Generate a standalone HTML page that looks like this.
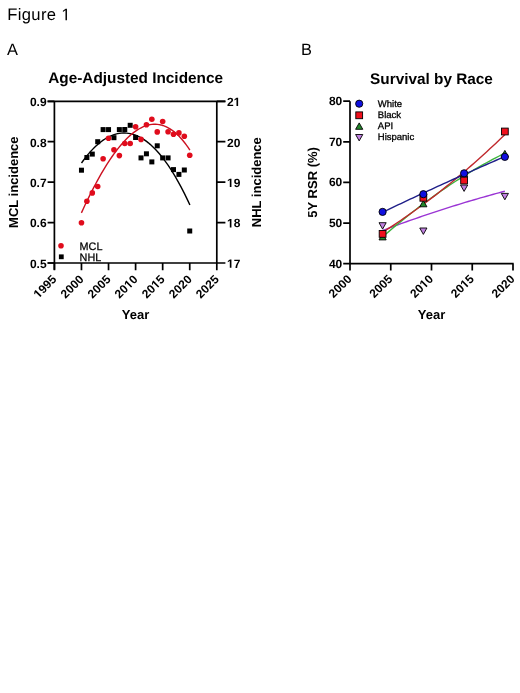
<!DOCTYPE html><html><head><meta charset="utf-8"><style>html,body{margin:0;padding:0;background:#fff;}svg{display:block;will-change:transform;}text{font-family:"Liberation Sans",sans-serif;text-rendering:geometricPrecision;}</style></head><body>
<svg width="520" height="693" viewBox="0 0 520 693">
<rect width="520" height="693" fill="#fff"/>
<g transform="translate(7.20 20.20)" fill="#000"><text font-size="16.6" style="font-kerning:none;letter-spacing:0.35px">Figure  </text><path transform="matrix(0.008105 0 0 -0.008105 54.114 0)" d="M515 0V1237L197 1010V1180L530 1409H696V0Z"/></g>
<text x="7.0" y="54.6" font-size="16.4" fill="#000">A</text>
<text x="301.0" y="54.6" font-size="16.4" fill="#000">B</text>
<text x="135.6" y="83.3" font-size="15.35" font-weight="bold" text-anchor="middle" fill="#000">Age-Adjusted Incidence</text>
<text x="431.5" y="84" font-size="15.35" font-weight="bold" text-anchor="middle" fill="#000">Survival by Race</text>
<g stroke="#000" stroke-width="1.7" fill="none" stroke-linecap="butt"><path d="M47.60 101.3 H225.40 M54.4 101.3 V269.8 M216.8 101.3 V263.0 M47.60 263.0 H216.8" /><path d="M47.60 101.30 H54.4 M216.8 101.30 H225.40 M47.60 141.72 H54.4 M216.8 141.72 H225.40 M47.60 182.15 H54.4 M216.8 182.15 H225.40 M47.60 222.57 H54.4 M216.8 222.57 H225.40 M47.60 263.00 H54.4 M216.8 263.00 H225.40 M54.40 263.0 V270.20 M81.47 263.0 V270.20 M108.53 263.0 V270.20 M135.60 263.0 V270.20 M162.67 263.0 V270.20 M189.73 263.0 V270.20 M216.80 263.0 V270.20"/></g>
<g font-size="12" font-weight="bold" fill="#000"><text x="46.6" y="106.1" text-anchor="end">0.9</text><text x="46.6" y="146.5" text-anchor="end">0.8</text><text x="46.6" y="186.9" text-anchor="end">0.7</text><text x="46.6" y="227.4" text-anchor="end">0.6</text><text x="46.6" y="267.8" text-anchor="end">0.5</text><g transform="translate(227.00 106.10)" fill="#000"><text font-size="12" font-weight="bold" style="font-kerning:none;letter-spacing:0px">2 </text><path transform="matrix(0.005859 0 0 -0.005859 6.674 0)" d="M478 0V1170L140 959V1180L493 1409H759V0Z"/></g><text transform="translate(227.00 146.53)" font-size="12" font-weight="bold" fill="#000">20</text><g transform="translate(227.00 186.95)" fill="#000"><text font-size="12" font-weight="bold" style="font-kerning:none;letter-spacing:0px"> 9</text><path transform="matrix(0.005859 0 0 -0.005859 0.000 0)" d="M478 0V1170L140 959V1180L493 1409H759V0Z"/></g><g transform="translate(227.00 227.38)" fill="#000"><text font-size="12" font-weight="bold" style="font-kerning:none;letter-spacing:0px"> 8</text><path transform="matrix(0.005859 0 0 -0.005859 0.000 0)" d="M478 0V1170L140 959V1180L493 1409H759V0Z"/></g><g transform="translate(227.00 267.80)" fill="#000"><text font-size="12" font-weight="bold" style="font-kerning:none;letter-spacing:0px"> 7</text><path transform="matrix(0.005859 0 0 -0.005859 0.000 0)" d="M478 0V1170L140 959V1180L493 1409H759V0Z"/></g><g transform="translate(57.30 280.10) rotate(-45)" fill="#000"><text font-size="12" font-weight="bold" text-anchor="end" style="font-kerning:none;letter-spacing:0px"> 995</text><path transform="matrix(0.005859 0 0 -0.005859 -26.695 0)" d="M478 0V1170L140 959V1180L493 1409H759V0Z"/></g><text transform="translate(84.37 280.10) rotate(-45)" font-size="12" font-weight="bold" text-anchor="end" fill="#000">2000</text><text transform="translate(111.43 280.10) rotate(-45)" font-size="12" font-weight="bold" text-anchor="end" fill="#000">2005</text><g transform="translate(138.50 280.10) rotate(-45)" fill="#000"><text font-size="12" font-weight="bold" text-anchor="end" style="font-kerning:none;letter-spacing:0px">20 0</text><path transform="matrix(0.005859 0 0 -0.005859 -13.348 0)" d="M478 0V1170L140 959V1180L493 1409H759V0Z"/></g><g transform="translate(165.57 280.10) rotate(-45)" fill="#000"><text font-size="12" font-weight="bold" text-anchor="end" style="font-kerning:none;letter-spacing:0px">20 5</text><path transform="matrix(0.005859 0 0 -0.005859 -13.348 0)" d="M478 0V1170L140 959V1180L493 1409H759V0Z"/></g><text transform="translate(192.63 280.10) rotate(-45)" font-size="12" font-weight="bold" text-anchor="end" fill="#000">2020</text><text transform="translate(219.70 280.10) rotate(-45)" font-size="12" font-weight="bold" text-anchor="end" fill="#000">2025</text></g>
<text transform="translate(17.9 182.2) rotate(-90)" text-anchor="middle" font-size="13" font-weight="bold" fill="#000">MCL incidence</text>
<text transform="translate(260.8 182.2) rotate(-90)" text-anchor="middle" font-size="13" font-weight="bold" fill="#000">NHL incidence</text>
<text x="135.6" y="318.6" text-anchor="middle" font-size="13" font-weight="bold" fill="#000">Year</text>
<path d="M81.50,162.97 L83.31,160.47 L85.11,158.09 L86.92,155.81 L88.73,153.64 L90.53,151.58 L92.34,149.63 L94.15,147.79 L95.95,146.05 L97.76,144.42 L99.57,142.90 L101.37,141.49 L103.18,140.19 L104.99,139.00 L106.79,137.91 L108.60,136.93 L110.41,136.07 L112.21,135.30 L114.02,134.65 L115.83,134.11 L117.63,133.67 L119.44,133.34 L121.25,133.13 L123.05,133.01 L124.86,133.01 L126.67,133.12 L128.47,133.33 L130.28,133.65 L132.09,134.08 L133.89,134.62 L135.70,135.27 L137.51,136.03 L139.31,136.89 L141.12,137.86 L142.93,138.94 L144.73,140.13 L146.54,141.43 L148.35,142.83 L150.15,144.35 L151.96,145.97 L153.77,147.70 L155.57,149.54 L157.38,151.48 L159.19,153.54 L160.99,155.70 L162.80,157.98 L164.61,160.36 L166.41,162.84 L168.22,165.44 L170.03,168.15 L171.83,170.96 L173.64,173.88 L175.45,176.91 L177.25,180.05 L179.06,183.29 L180.87,186.65 L182.67,190.11 L184.48,193.68 L186.29,197.36 L188.09,201.15 L189.90,205.05" stroke="#000" stroke-width="1.4" fill="none"/>
<path d="M81.40,212.85 L83.21,208.93 L85.02,205.07 L86.83,201.28 L88.63,197.57 L90.44,193.93 L92.25,190.36 L94.06,186.87 L95.87,183.46 L97.68,180.13 L99.48,176.87 L101.29,173.70 L103.10,170.62 L104.91,167.62 L106.72,164.70 L108.53,161.87 L110.33,159.14 L112.14,156.49 L113.95,153.94 L115.76,151.48 L117.57,149.12 L119.38,146.85 L121.18,144.68 L122.99,142.61 L124.80,140.65 L126.61,138.79 L128.42,137.03 L130.23,135.37 L132.03,133.83 L133.84,132.39 L135.65,131.07 L137.46,129.86 L139.27,128.76 L141.07,127.77 L142.88,126.90 L144.69,126.15 L146.50,125.52 L148.31,125.01 L150.12,124.62 L151.93,124.36 L153.73,124.22 L155.54,124.21 L157.35,124.33 L159.16,124.57 L160.97,124.95 L162.78,125.46 L164.58,126.11 L166.39,126.89 L168.20,127.81 L170.01,128.86 L171.82,130.06 L173.62,131.40 L175.43,132.88 L177.24,134.51 L179.05,136.28 L180.86,138.21 L182.67,140.28 L184.48,142.50 L186.28,144.87 L188.09,147.40 L189.90,150.08" stroke="#cc1020" stroke-width="1.4" fill="none"/>
<g fill="#000"><rect x="78.97" y="167.70" width="5" height="5"/><rect x="84.38" y="155.00" width="5" height="5"/><rect x="89.79" y="151.60" width="5" height="5"/><rect x="95.21" y="139.20" width="5" height="5"/><rect x="100.62" y="127.10" width="5" height="5"/><rect x="106.03" y="127.10" width="5" height="5"/><rect x="111.45" y="135.20" width="5" height="5"/><rect x="116.86" y="127.10" width="5" height="5"/><rect x="122.27" y="127.00" width="5" height="5"/><rect x="127.69" y="122.80" width="5" height="5"/><rect x="133.10" y="135.00" width="5" height="5"/><rect x="138.51" y="155.40" width="5" height="5"/><rect x="143.93" y="151.30" width="5" height="5"/><rect x="149.34" y="159.40" width="5" height="5"/><rect x="154.75" y="143.30" width="5" height="5"/><rect x="160.17" y="155.40" width="5" height="5"/><rect x="165.58" y="155.40" width="5" height="5"/><rect x="170.99" y="167.10" width="5" height="5"/><rect x="176.41" y="171.90" width="5" height="5"/><rect x="181.82" y="167.50" width="5" height="5"/><rect x="187.23" y="228.50" width="5" height="5"/></g>
<g fill="#e00c1c"><circle cx="81.47" cy="222.70" r="2.8"/><circle cx="86.88" cy="201.30" r="2.8"/><circle cx="92.29" cy="192.90" r="2.8"/><circle cx="97.71" cy="186.50" r="2.8"/><circle cx="103.12" cy="158.70" r="2.8"/><circle cx="108.53" cy="138.30" r="2.8"/><circle cx="113.95" cy="149.80" r="2.8"/><circle cx="119.36" cy="155.60" r="2.8"/><circle cx="124.77" cy="143.50" r="2.8"/><circle cx="130.19" cy="143.50" r="2.8"/><circle cx="135.60" cy="126.70" r="2.8"/><circle cx="141.01" cy="139.40" r="2.8"/><circle cx="146.43" cy="124.80" r="2.8"/><circle cx="151.84" cy="119.20" r="2.8"/><circle cx="157.25" cy="131.90" r="2.8"/><circle cx="162.67" cy="121.50" r="2.8"/><circle cx="168.08" cy="131.70" r="2.8"/><circle cx="173.49" cy="134.20" r="2.8"/><circle cx="178.91" cy="132.90" r="2.8"/><circle cx="184.32" cy="136.30" r="2.8"/><circle cx="189.73" cy="155.20" r="2.8"/></g>
<circle cx="61" cy="245.8" r="2.8" fill="#e00c1c"/>
<rect x="58.9" y="254.4" width="4.8" height="4.8" fill="#000"/>
<text x="79.6" y="249.8" font-size="10.8" fill="#000" stroke="#000" stroke-width="0.25">MCL</text>
<text x="79.6" y="260.8" font-size="10.8" fill="#000" stroke="#000" stroke-width="0.25">NHL</text>
<path d="M350.0 101.2 V270.50 M343.20 263.7 H513.70 M343.20 101.20 H350.0 M343.20 141.82 H350.0 M343.20 182.45 H350.0 M343.20 223.07 H350.0 M343.20 263.70 H350.0 M390.75 263.7 V270.50 M431.50 263.7 V270.50 M472.25 263.7 V270.50 M513.00 263.7 V270.50" stroke="#000" stroke-width="1.7" fill="none"/>
<g font-size="12" font-weight="bold" fill="#000"><text x="342.3" y="105.2" text-anchor="end">80</text><text x="342.3" y="145.8" text-anchor="end">70</text><text x="342.3" y="186.4" text-anchor="end">60</text><text x="342.3" y="227.1" text-anchor="end">50</text><text x="342.3" y="267.7" text-anchor="end">40</text><text transform="translate(352.40 279.70) rotate(-45)" font-size="12" font-weight="bold" text-anchor="end" fill="#000">2000</text><text transform="translate(393.15 279.70) rotate(-45)" font-size="12" font-weight="bold" text-anchor="end" fill="#000">2005</text><g transform="translate(433.90 279.70) rotate(-45)" fill="#000"><text font-size="12" font-weight="bold" text-anchor="end" style="font-kerning:none;letter-spacing:0px">20 0</text><path transform="matrix(0.005859 0 0 -0.005859 -13.348 0)" d="M478 0V1170L140 959V1180L493 1409H759V0Z"/></g><g transform="translate(474.65 279.70) rotate(-45)" fill="#000"><text font-size="12" font-weight="bold" text-anchor="end" style="font-kerning:none;letter-spacing:0px">20 5</text><path transform="matrix(0.005859 0 0 -0.005859 -13.348 0)" d="M478 0V1170L140 959V1180L493 1409H759V0Z"/></g><text transform="translate(515.40 279.70) rotate(-45)" font-size="12" font-weight="bold" text-anchor="end" fill="#000">2020</text></g>
<text transform="translate(316.9 182.4) rotate(-90)" text-anchor="middle" font-size="13" font-weight="bold" fill="#000">5Y RSR (%)</text>
<text x="431.5" y="319" text-anchor="middle" font-size="13" font-weight="bold" fill="#000">Year</text>
<path d="M382.60,230.49 L385.66,229.33 L388.71,228.19 L391.77,227.06 L394.83,225.93 L397.88,224.81 L400.94,223.71 L403.99,222.61 L407.05,221.52 L410.11,220.43 L413.16,219.36 L416.22,218.30 L419.28,217.24 L422.33,216.19 L425.39,215.15 L428.44,214.12 L431.50,213.10 L434.56,212.09 L437.61,211.09 L440.67,210.09 L443.73,209.11 L446.78,208.13 L449.84,207.16 L452.89,206.20 L455.95,205.25 L459.01,204.31 L462.06,203.37 L465.12,202.45 L468.18,201.53 L471.23,200.62 L474.29,199.72 L477.34,198.83 L480.40,197.95 L483.46,197.08 L486.51,196.22 L489.57,195.36 L492.62,194.51 L495.68,193.68 L498.74,192.85 L501.79,192.03 L504.85,191.22" stroke="#9a34d4" stroke-width="1.4" fill="none"/>
<path d="M382.60,236.91 L385.66,234.24 L388.71,231.60 L391.77,228.99 L394.83,226.41 L397.88,223.86 L400.94,221.34 L403.99,218.85 L407.05,216.39 L410.11,213.96 L413.16,211.56 L416.22,209.18 L419.28,206.84 L422.33,204.53 L425.39,202.24 L428.44,199.99 L431.50,197.76 L434.56,195.56 L437.61,193.40 L440.67,191.26 L443.73,189.15 L446.78,187.07 L449.84,185.03 L452.89,183.01 L455.95,181.02 L459.01,179.06 L462.06,177.13 L465.12,175.22 L468.18,173.35 L471.23,171.51 L474.29,169.70 L477.34,167.91 L480.40,166.16 L483.46,164.43 L486.51,162.74 L489.57,161.07 L492.62,159.44 L495.68,157.83 L498.74,156.25 L501.79,154.70 L504.85,153.18" stroke="#3cb43c" stroke-width="1.4" fill="none"/>
<path d="M382.60,232.19 L385.66,230.26 L388.71,228.30 L391.77,226.32 L394.83,224.31 L397.88,222.27 L400.94,220.21 L403.99,218.12 L407.05,216.01 L410.11,213.87 L413.16,211.70 L416.22,209.51 L419.28,207.29 L422.33,205.05 L425.39,202.78 L428.44,200.49 L431.50,198.16 L434.56,195.82 L437.61,193.44 L440.67,191.04 L443.73,188.62 L446.78,186.17 L449.84,183.69 L452.89,181.18 L455.95,178.65 L459.01,176.10 L462.06,173.52 L465.12,170.91 L468.18,168.28 L471.23,165.62 L474.29,162.93 L477.34,160.22 L480.40,157.48 L483.46,154.72 L486.51,151.93 L489.57,149.11 L492.62,146.27 L495.68,143.41 L498.74,140.51 L501.79,137.59 L504.85,134.65" stroke="#c0282c" stroke-width="1.4" fill="none"/>
<path d="M382.60,212.29 L385.66,210.82 L388.71,209.36 L391.77,207.90 L394.83,206.44 L397.88,204.99 L400.94,203.55 L403.99,202.10 L407.05,200.66 L410.11,199.23 L413.16,197.79 L416.22,196.37 L419.28,194.94 L422.33,193.52 L425.39,192.10 L428.44,190.69 L431.50,189.28 L434.56,187.87 L437.61,186.46 L440.67,185.06 L443.73,183.67 L446.78,182.28 L449.84,180.89 L452.89,179.50 L455.95,178.12 L459.01,176.74 L462.06,175.37 L465.12,174.00 L468.18,172.63 L471.23,171.27 L474.29,169.91 L477.34,168.55 L480.40,167.20 L483.46,165.85 L486.51,164.51 L489.57,163.17 L492.62,161.83 L495.68,160.49 L498.74,159.16 L501.79,157.84 L504.85,156.52" stroke="#1e1e88" stroke-width="1.4" fill="none"/>
<path d="M382.60 229.10 L386.20 222.70 L379.00 222.70 Z" fill="#c080e0" stroke="#000" stroke-width="0.9" stroke-linejoin="miter"/><path d="M423.35 234.40 L426.95 228.00 L419.75 228.00 Z" fill="#c080e0" stroke="#000" stroke-width="0.9" stroke-linejoin="miter"/><path d="M464.10 191.40 L467.70 185.00 L460.50 185.00 Z" fill="#c080e0" stroke="#000" stroke-width="0.9" stroke-linejoin="miter"/><path d="M504.85 199.80 L508.45 193.40 L501.25 193.40 Z" fill="#c080e0" stroke="#000" stroke-width="0.9" stroke-linejoin="miter"/>
<path d="M382.60 233.50 L386.20 239.90 L379.00 239.90 Z" fill="#22882a" stroke="#000" stroke-width="0.9" stroke-linejoin="miter"/><path d="M423.35 200.40 L426.95 206.80 L419.75 206.80 Z" fill="#22882a" stroke="#000" stroke-width="0.9" stroke-linejoin="miter"/><path d="M464.10 170.40 L467.70 176.80 L460.50 176.80 Z" fill="#22882a" stroke="#000" stroke-width="0.9" stroke-linejoin="miter"/><path d="M504.85 150.40 L508.45 156.80 L501.25 156.80 Z" fill="#22882a" stroke="#000" stroke-width="0.9" stroke-linejoin="miter"/>
<rect x="379.20" y="230.50" width="6.8" height="6.8" fill="#f0101c" stroke="#000" stroke-width="0.9"/><rect x="419.95" y="194.40" width="6.8" height="6.8" fill="#f0101c" stroke="#000" stroke-width="0.9"/><rect x="460.70" y="177.10" width="6.8" height="6.8" fill="#f0101c" stroke="#000" stroke-width="0.9"/><rect x="501.45" y="128.10" width="6.8" height="6.8" fill="#f0101c" stroke="#000" stroke-width="0.9"/>
<circle cx="382.60" cy="211.90" r="3.6" fill="#1010e0" stroke="#000" stroke-width="0.9"/><circle cx="423.35" cy="194.20" r="3.6" fill="#1010e0" stroke="#000" stroke-width="0.9"/><circle cx="464.10" cy="173.30" r="3.6" fill="#1010e0" stroke="#000" stroke-width="0.9"/><circle cx="504.85" cy="156.90" r="3.6" fill="#1010e0" stroke="#000" stroke-width="0.9"/>
<circle cx="359.20" cy="103.70" r="3.6" fill="#1010e0" stroke="#000" stroke-width="0.9"/><rect x="355.80" y="111.90" width="6.8" height="6.8" fill="#f0101c" stroke="#000" stroke-width="0.9"/><path d="M359.20 122.90 L362.80 129.30 L355.60 129.30 Z" fill="#22882a" stroke="#000" stroke-width="0.9" stroke-linejoin="miter"/><path d="M359.20 140.90 L362.80 134.50 L355.60 134.50 Z" fill="#c080e0" stroke="#000" stroke-width="0.9" stroke-linejoin="miter"/>
<text x="377.8" y="107.3" font-size="9.5" fill="#000" stroke="#000" stroke-width="0.3">White</text>
<text x="377.8" y="118.3" font-size="9.5" fill="#000" stroke="#000" stroke-width="0.3">Black</text>
<text x="377.8" y="129.2" font-size="9.5" fill="#000" stroke="#000" stroke-width="0.3">API</text>
<text x="377.8" y="140.1" font-size="9.5" fill="#000" stroke="#000" stroke-width="0.3">Hispanic</text>
</svg></body></html>
